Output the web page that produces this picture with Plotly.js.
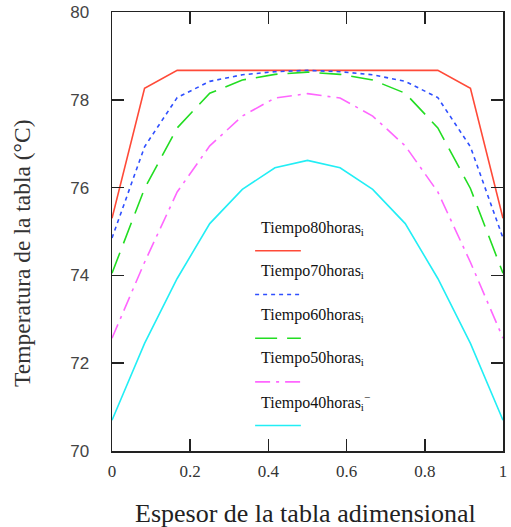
<!DOCTYPE html>
<html>
<head>
<meta charset="utf-8">
<script src="https://cdn.plot.ly/plotly-3.0.1.min.js"></script>
<style>html,body{margin:0;padding:0;background:#fff;}#chart{width:511px;height:527px;}</style>
</head>
<body>
<div id="chart"></div>
<script>
// Dimensionless thickness positions
var espesor = [0, 0.0833, 0.1667, 0.25, 0.3333, 0.4167, 0.5, 0.5833, 0.6667, 0.75, 0.8333, 0.9167, 1];
// Temperatures (°C)
var tiempo80 = [75.3, 78.26, 78.67, 78.67, 78.67, 78.67, 78.67, 78.67, 78.67, 78.67, 78.67, 78.26, 75.3];
var tiempo70 = [74.85, 76.93, 78.05, 78.42, 78.57, 78.64, 78.67, 78.64, 78.57, 78.42, 78.05, 76.93, 74.85];
var tiempo60 = [74.05, 75.98, 77.36, 78.15, 78.45, 78.58, 78.63, 78.58, 78.45, 78.15, 77.36, 75.98, 74.05];
var tiempo50 = [72.57, 74.3, 75.9, 76.95, 77.63, 78.04, 78.14, 78.04, 77.63, 76.95, 75.9, 74.3, 72.57];
var tiempo40 = [70.7, 72.45, 73.93, 75.18, 75.96, 76.45, 76.62, 76.45, 75.96, 75.18, 73.93, 72.45, 70.7];

var seriesNames = ["Tiempo80horas<sub>i</sub>", "Tiempo70horas<sub>i</sub>", "Tiempo60horas<sub>i</sub>", "Tiempo50horas<sub>i</sub>", "Tiempo40horas<sub>i</sub><sup>−</sup>"];
var seriesData = [tiempo80, tiempo70, tiempo60, tiempo50, tiempo40];
var seriesColors = ["#ff4a38", "#2f4fff", "#22dd22", "#ff66ff", "#22eef5"];
var seriesDash = ["solid", "4px,4px", "22px,10px", "15px,6px,3px,6px", "solid"];

var xTicks = [0, 0.2, 0.4, 0.6, 0.8, 1];
var xTickText = ["0", "0.2", "0.4", "0.6", "0.8", "1"];
var yTicks = [70, 72, 74, 76, 78, 80];
var yTickText = ["70", "72", "74", "76", "78", "80"];
var xTitle = "Espesor de la tabla adimensional";
var yTitle = "Temperatura de la tabla (°C)";

var traces = seriesData.map(function(d, i) {
  return {
    x: espesor, y: d, type: "scatter", mode: "lines",
    line: {color: seriesColors[i], width: 1.6, dash: seriesDash[i]},
    showlegend: false, hoverinfo: "skip"
  };
});

var serif = "Liberation Serif, Times New Roman, serif";
var annotations = [];
var shapes = [];
for (var i = 0; i < seriesNames.length; i++) {
  var yText = 0.507 - i * 0.099;
  var yLine = 0.456 - i * 0.0995;
  annotations.push({
    xref: "paper", yref: "paper", x: 0.375, y: yText, xanchor: "left", yanchor: "middle",
    text: seriesNames[i], showarrow: false,
    font: {family: serif, size: 16, color: "#111"}
  });
  shapes.push({
    type: "line", xref: "paper", yref: "paper", x0: 0.366, x1: 0.483, y0: yLine, y1: yLine,
    line: {color: seriesColors[i], width: 1.6, dash: seriesDash[i]}
  });
}
// axis titles
annotations.push({
  xref: "paper", yref: "paper", x: 0.496, y: -0.142, xanchor: "center", yanchor: "middle",
  text: xTitle, showarrow: false, font: {family: serif, size: 26, color: "#222"}
});
annotations.push({
  xref: "paper", yref: "paper", x: -0.229, y: 0.45, xanchor: "center", yanchor: "middle",
  textangle: -90, text: yTitle, showarrow: false, font: {family: serif, size: 23.5, color: "#333"}
});

var layout = {
  width: 511, height: 527,
  margin: {l: 112, r: 8, t: 12, b: 76},
  paper_bgcolor: "#fff", plot_bgcolor: "#fff",
  showlegend: false,
  xaxis: {
    range: [0, 1], tickvals: xTicks, ticktext: xTickText,
    ticks: "inside", ticklen: 12, tickwidth: 1.5, tickcolor: "#222",
    showline: true, linecolor: "#222", linewidth: 1.5, mirror: "ticks",
    showgrid: false, zeroline: false,
    ticklabelstandoff: 4,
    tickfont: {family: serif, size: 17, color: "#333"}
  },
  yaxis: {
    range: [70, 80], tickvals: yTicks, ticktext: yTickText,
    ticks: "inside", ticklen: 12, tickwidth: 1.5, tickcolor: "#222",
    showline: true, linecolor: "#222", linewidth: 1.5, mirror: "ticks",
    showgrid: false, zeroline: false,
    ticklabelstandoff: 18,
    tickfont: {family: "Liberation Sans, Arial, sans-serif", size: 17, color: "#444"}
  },
  shapes: shapes,
  annotations: annotations
};

Plotly.newPlot("chart", traces, layout, {staticPlot: true, displayModeBar: false});
</script>
</body>
</html>
